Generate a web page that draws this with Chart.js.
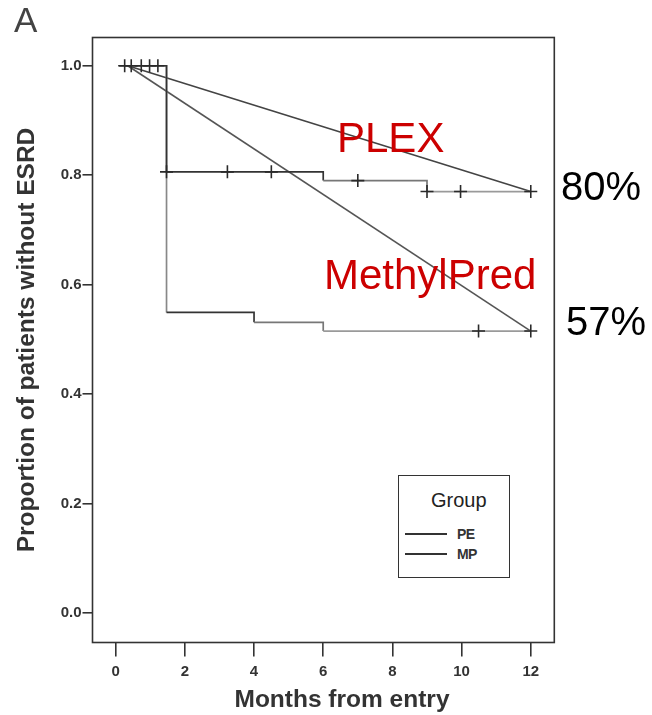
<!DOCTYPE html>
<html>
<head>
<meta charset="utf-8">
<script src="https://cdn.jsdelivr.net/npm/chart.js@4/dist/chart.umd.min.js"></script>
<style>
  body { margin: 0; background: #fff; }
  .wrap { position: relative; width: 652px; height: 715px; font-family: "Liberation Sans", Arial, sans-serif; }
  #esrdChart { position: absolute; left: 0; top: 0; }
  .note { position: absolute; line-height: 1; white-space: nowrap; }
  .note--red { color: #cc0000; font-size: 42px; }
  .note--pct { color: #000; font-size: 40px; }
  .panel-tag { left: 14px; top: 2px; font-size: 35px; color: #444; }
  .x-title { left: 142px; width: 400px; top: 687px; text-align: center; font-size: 24.5px; font-weight: bold; color: #333; }
  .legend { position: absolute; left: 398px; top: 475px; width: 110px; height: 101px; border: 1.6px solid #333; background: #fff; }
  .legend__title { position: absolute; left: 32px; top: 14px; font-size: 20px; color: #222; }
  .legend__row { position: absolute; left: 6px; height: 14px; }
  .legend__row i { position: absolute; left: 0; top: 6px; width: 42px; height: 0; border-top: 2px solid #333; }
  .legend__row span { position: absolute; left: 52px; top: 0; font-size: 14px; font-weight: bold; color: #333; letter-spacing: -0.6px; }
</style>
</head>
<body>
<div class="wrap">
  <canvas id="esrdChart" width="652" height="715"></canvas>
  <div class="note panel-tag">A</div>
  <div class="note note--red" style="left:337px; top:117px;">PLEX</div>
  <div class="note note--pct" style="left:561px; top:166px;">80%</div>
  <div class="note note--red" style="left:324px; top:254px;">MethylPred</div>
  <div class="note note--pct" style="left:566px; top:301px;">57%</div>
  <div class="note x-title">Months from entry</div>
  <div class="legend">
    <div class="note legend__title">Group</div>
    <div class="legend__row" style="top:51px;"><i></i><span class="note">PE</span></div>
    <div class="legend__row" style="top:71px;"><i></i><span class="note">MP</span></div>
  </div>
</div>
<script>
/* Kaplan-Meier: ESRD-free proportion, PE vs MP */
const TIME_TICKS = [0, 2, 4, 6, 8, 10, 12];
const PROP_TICKS = [0, 0.2, 0.4, 0.6, 0.8, 1.0];

// step curves (value holds until the next time)
const PE_TIMES = [0.1, 1.47, 6.0, 9.0, 12];
const PE_SURV = [1.0, 0.806, 0.79, 0.77, 0.77];
const MP_TIMES = [0.1, 1.47, 4.0, 6.0, 12];
const MP_SURV = [1.0, 0.549, 0.531, 0.515, 0.515];

// censored patients
const PE_CENSOR_TIMES = [0.26, 0.45, 0.74, 0.98, 1.22, 1.47, 3.23, 4.5, 7.0, 9.0, 9.97, 12];
const PE_CENSOR_SURV = [1, 1, 1, 1, 1, 0.806, 0.806, 0.806, 0.79, 0.77, 0.77, 0.77];
const MP_CENSOR_TIMES = [10.49, 12];
const MP_CENSOR_SURV = [0.515, 0.515];

// straight trend lines drawn over the curves
const TREND_TIMES = [0.35, 12];
const PLEX_TREND = [1.0, 0.77];
const METHYL_TREND = [1.0, 0.515];

const FONT = '"Liberation Sans", Arial, sans-serif';
const PE_SHADES = ['#333', '#333', '#777', '#9a9a9a'];
const MP_SHADES = ['#888', '#333', '#777', '#9a9a9a'];

const toPoints = (xs, ys) => xs.map((x, i) => ({ x, y: ys[i] }));

const frame = {
  id: 'frame',
  afterDraw(chart) {
    const { ctx, chartArea: a } = chart;
    ctx.save();
    ctx.strokeStyle = '#333';
    ctx.lineWidth = 1.6;
    ctx.strokeRect(a.left, a.top, a.right - a.left, a.bottom - a.top);
    ctx.restore();
  },
};

function stepSet(label, xs, ys, shades) {
  return {
    label,
    data: toPoints(xs, ys),
    stepped: 'before',
    borderColor: shades[0],
    borderWidth: 1.7,
    pointRadius: 0,
    fill: false,
    segment: { borderColor: c => shades[c.p0DataIndex] },
  };
}

function censorSet(label, xs, ys) {
  return {
    label,
    data: toPoints(xs, ys),
    showLine: false,
    pointStyle: 'cross',
    pointRadius: 6.5,
    pointBorderWidth: 1.6,
    pointBorderColor: '#2a2a2a',
  };
}

function trendSet(label, ys, color) {
  return {
    label,
    data: toPoints(TREND_TIMES, ys),
    borderColor: color,
    borderWidth: 1.6,
    pointRadius: 0,
    fill: false,
  };
}

function render() {
  const ctx = document.getElementById('esrdChart').getContext('2d');
  new Chart(ctx, {
    type: 'line',
    data: {
      datasets: [
        censorSet('PE censored', PE_CENSOR_TIMES, PE_CENSOR_SURV),
        censorSet('MP censored', MP_CENSOR_TIMES, MP_CENSOR_SURV),
        stepSet('PE', PE_TIMES, PE_SURV, PE_SHADES),
        stepSet('MP', MP_TIMES, MP_SURV, MP_SHADES),
        trendSet('PLEX', PLEX_TREND, '#444'),
        trendSet('MethylPred', METHYL_TREND, '#555'),
      ],
    },
    options: {
      responsive: false,
      devicePixelRatio: 1,
      animation: false,
      events: [],
      layout: { padding: { top: 37.5, right: 97.7, bottom: 0, left: 0 } },
      plugins: { legend: { display: false }, tooltip: { enabled: false } },
      scales: {
        x: {
          type: 'linear',
          min: -0.67,
          max: 12.68,
          afterFit: s => { s.height = 72.5; },
          afterBuildTicks: s => { s.ticks = TIME_TICKS.map(v => ({ value: v })); },
          border: { display: false },
          grid: { drawOnChartArea: false, drawTicks: true, tickLength: 14, color: '#333', lineWidth: 1.6 },
          ticks: {
            color: '#333',
            padding: 6,
            maxRotation: 0,
            font: { family: FONT, size: 15, weight: 'bold' },
            callback: v => String(v),
          },
        },
        y: {
          min: -0.0543,
          max: 1.0516,
          afterFit: s => { s.width = 92.5; },
          afterBuildTicks: s => { s.ticks = PROP_TICKS.map(v => ({ value: v })); },
          border: { display: false },
          grid: { drawOnChartArea: false, drawTicks: true, tickLength: 10, color: '#333', lineWidth: 1.6 },
          ticks: {
            color: '#333',
            padding: 1,
            font: { family: FONT, size: 15, weight: 'bold' },
            callback: v => v.toFixed(1),
          },
          title: {
            display: true,
            text: 'Proportion of patients without ESRD',
            color: '#333',
            padding: { top: 13, bottom: 0 },
            font: { family: FONT, size: 24.5, weight: 'bold' },
          },
        },
      },
    },
    plugins: [frame],
  });
}

render();
</script>
</body>
</html>
